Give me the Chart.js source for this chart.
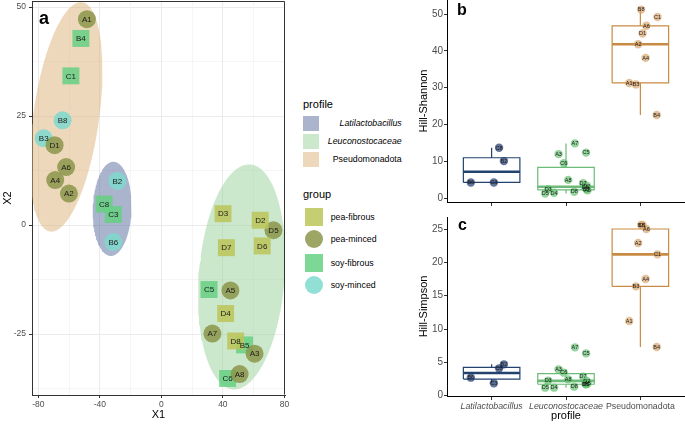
<!DOCTYPE html>
<html><head><meta charset="utf-8">
<script src="https://cdn.jsdelivr.net/npm/chart.js@4.4.1/dist/chart.umd.min.js"></script>
<style>
html,body{margin:0;padding:0;background:#fff;}
#wrap{position:relative;width:685px;height:424px;overflow:hidden;font-family:"Liberation Sans",Arial,sans-serif;}
canvas{position:absolute;}
.t{position:absolute;white-space:nowrap;line-height:1;color:#000;}
.key{position:absolute;}
</style></head><body>
<div id="wrap">
<canvas id="ca" width="300" height="424" style="left:0;top:0;width:300px;height:424px"></canvas>
<canvas id="cb" width="271" height="210" style="left:414px;top:0;width:271px;height:210px"></canvas>
<canvas id="cc" width="271" height="214" style="left:414px;top:210px;width:271px;height:214px"></canvas>
<div id="legend"></div>
<div class="t" style="left:39px;top:8.8px;font-size:18px;font-weight:bold">a</div>
<div class="t" style="left:457px;top:1.5px;font-size:16px;font-weight:bold">b</div>
<div class="t" style="left:458px;top:217px;font-size:16px;font-weight:bold">c</div>
</div>
<script>
// ---------------- data ----------------
const sampleIds = ['A1','B4','C1','B8','B3','D1','A6','A4','A2','B2','C8','C3','B6','D3','D2','D5','D6','D7','C5','A5','D4','A7','D8','B5','A3','A8','C6'];
const groupOfSample = ['pea-minced','soy-fibrous','soy-fibrous','soy-minced','soy-minced','pea-minced','pea-minced','pea-minced','pea-minced',
  'soy-minced','soy-fibrous','soy-fibrous','soy-minced',
  'pea-fibrous','pea-fibrous','pea-minced','pea-fibrous','pea-fibrous','soy-fibrous','pea-minced','pea-fibrous','pea-minced','pea-fibrous','soy-fibrous','pea-minced','pea-minced','soy-fibrous'];
const profileOfSample = ['Pseudomonadota','Pseudomonadota','Pseudomonadota','Pseudomonadota','Pseudomonadota','Pseudomonadota','Pseudomonadota','Pseudomonadota','Pseudomonadota',
  'Latilactobacillus','Latilactobacillus','Latilactobacillus','Latilactobacillus',
  'Leuconostocaceae','Leuconostocaceae','Leuconostocaceae','Leuconostocaceae','Leuconostocaceae','Leuconostocaceae','Leuconostocaceae','Leuconostocaceae','Leuconostocaceae','Leuconostocaceae','Leuconostocaceae','Leuconostocaceae','Leuconostocaceae','Leuconostocaceae'];
const x1Values = [-48.4,-52.3,-58.8,-64.2,-76.5,-69.4,-61.9,-69.0,-60.1, -28.6,-37.2,-31.2,-31.2, 40.1,64.3,72.9,65.6,42.3,31.0,44.9,41.8,33.2,48.3,54.1,60.6,50.9,43.1];
const x2Values = [47.2,42.8,34.2,24.0,19.9,18.3,13.3,10.3,7.2, 10.1,4.8,2.4,-3.9, 2.6,1.1,-1.2,-4.8,-5.2,-14.8,-15.0,-20.3,-24.9,-26.6,-27.5,-29.5,-34.2,-35.2];
const hillShannon = [31.3,22.6,49.2,51.2,30.9,44.7,46.8,38.1,41.8, 10.1,13.7,4.3,4.3, 2.5,3.4,1.3,2.9,4.1,12.4,2.2,1.5,14.9,1.8,2.5,12.0,5.0,9.5];
const hillSimpson = [11.2,7.3,21.2,25.6,16.4,25.6,25.0,17.5,22.9, 4.7,4.1,1.85,2.7, 2.25,2.2,1.2,1.75,2.85,6.35,1.8,1.2,7.25,1.35,1.7,3.95,2.45,3.45];
const jitterX = [-0.15,0.22,0.23,0.01,-0.06,0.03,0.08,0.07,-0.03, 0.165,0.10,0.03,-0.28, -0.24,0.28,-0.28,0.26,0.23,0.27,0.29,-0.16,0.12,0.11,0.27,-0.10,0.03,-0.03];
const profiles = ['Latilactobacillus','Leuconostocaceae','Pseudomonadota'];
const groups = ['pea-fibrous','pea-minced','soy-fibrous','soy-minced'];
const x1Ticks = [-80,-40,0,40,80];
const x1Minor = [-60,-20,20,60];
const x2Ticks = [-25,0,25,50];
const x2Minor = [-37.5,-12.5,12.5,37.5];
const shannonTicks = [0,10,20,30,40,50];
const simpsonTicks = [0,5,10,15,20,25];
// confidence ellipses (per profile): centre, semi-axis vectors in data units
const ellipseCenter = [[-32.0,3.7],[52.2,-11.9],[-61.9,24.8]];
const ellipseAxisA = [[0.97,10.8],[5.6,25.8],[10.4,26.3]];
const ellipseAxisB = [[12.6,-0.14],[27.8,-0.76],[21.2,-1.05]];

// ---------------- styles ----------------
const FONT = '"Liberation Sans", Arial, sans-serif';
Chart.defaults.font.family = FONT;
const ellipseFill = ['rgba(85,105,155,0.5)','rgba(151,209,155,0.5)','rgba(221,177,121,0.5)'];
const profileKey = ['#aab4cc','#cbe8cd','#eed8bc'];
const groupFill = ['rgba(188,197,89,0.85)','rgba(140,150,74,0.85)','rgba(102,208,130,0.85)','rgba(126,217,206,0.85)'];
const groupKey = ['#c6ce72','#9da665','#7dd795','#91dfd5'];
const groupShape = ['rect','circle','rect','circle'];
const groupRadius = [12,9,12,9];
const boxLine = ['#23436e','#6cbb78','#c98b43'];
const boxPoint = ['rgba(30,55,110,0.7)','rgba(90,190,105,0.65)','rgba(215,160,100,0.65)'];
const BOX_HALF = 0.38;

const labelPlugin = {
  id:'pointLabels',
  afterDatasetsDraw(chart, args, opts){
    const ctx = chart.ctx; ctx.save();
    ctx.font = opts.size + 'px ' + FONT; ctx.fillStyle = opts.color;
    ctx.textAlign = 'center'; ctx.textBaseline = 'middle';
    chart.data.datasets.forEach((ds,i)=>{
      if(!ds.pointLabels) return;
      chart.getDatasetMeta(i).data.forEach((el,k)=>ctx.fillText(ds.pointLabels[k], el.x, el.y + opts.dy));
    });
    ctx.restore();
  }
};
const framePlugin = {
  id:'frame',
  afterDraw(chart){
    const {ctx, chartArea:a} = chart; ctx.save();
    ctx.strokeStyle = '#333'; ctx.lineWidth = 1;
    ctx.beginPath();
    ctx.moveTo(Math.round(a.left)+0.5, Math.round(a.top)+0.5);
    ctx.lineTo(Math.round(a.right)-0.5, Math.round(a.top)+0.5);
    ctx.lineTo(Math.round(a.right)-0.5, Math.round(a.bottom)-0.5);
    ctx.stroke(); ctx.restore();
  }
};

// ---------------- panel a ----------------
const aDatasets = [];
groups.forEach((g,gi)=>{
  const idx = sampleIds.map((s,k)=>k).filter(k=>groupOfSample[k]===g);
  aDatasets.push({
    data: idx.map(k=>({x:x1Values[k], y:x2Values[k]})),
    pointLabels: idx.map(k=>sampleIds[k]),
    pointStyle: groupShape[gi], pointRadius: groupRadius[gi], pointHoverRadius: groupRadius[gi],
    backgroundColor: groupFill[gi], pointBorderWidth: 0, borderWidth: 0, order: 1
  });
});
profiles.forEach((p,pi)=>{
  const pts = [];
  const c = ellipseCenter[pi], A = ellipseAxisA[pi], B = ellipseAxisB[pi];
  for(let k=0;k<=120;k++){
    const t = 2*Math.PI*k/120;
    pts.push({x:c[0]+A[0]*Math.cos(t)+B[0]*Math.sin(t), y:c[1]+A[1]*Math.cos(t)+B[1]*Math.sin(t)});
  }
  aDatasets.push({type:'line', data:pts, fill:'shape', backgroundColor:ellipseFill[pi],
    borderColor:'rgba(0,0,0,0)', borderWidth:0, pointRadius:0, tension:0, order:10});
});

const isIn = (arr,v)=>arr.some(a=>Math.abs(a-v)<1e-9);
new Chart(document.getElementById('ca'), {
  type:'scatter',
  data:{datasets:aDatasets},
  options:{
    responsive:false, animation:false,
    layout:{autoPadding:false, padding:{left:0,top:1,right:15,bottom:0}},
    plugins:{legend:{display:false}, tooltip:{enabled:false}, pointLabels:{size:8, color:'#1a1a1a', dy:0.5}},
    scales:{
      x:{type:'linear', min:-84.1, max:80.4,
        afterBuildTicks:s=>{s.ticks=[...x1Ticks,...x1Minor].sort((a,b)=>a-b).map(v=>({value:v}));},
        ticks:{autoSkip:false, maxRotation:0, padding:2, color:'#4d4d4d', font:{size:8.5},
          callback:v=>isIn(x1Ticks,v)?String(v):''},
        grid:{color:'#ebebeb', lineWidth:c=>isIn(x1Ticks,c.tick.value)?1:0.5, tickLength:3,
          tickColor:c=>isIn(x1Ticks,c.tick.value)?'#333':'rgba(0,0,0,0)'},
        border:{display:true, color:'#333', width:1},
        title:{display:true, text:'X1', color:'#000', font:{size:11}, padding:{top:0,bottom:2}},
        afterFit:s=>{s.height=29; s.paddingLeft=0; s.paddingRight=0;}},
      y:{type:'linear', min:-38.99, max:51.38,
        afterBuildTicks:s=>{s.ticks=[...x2Ticks,...x2Minor].sort((a,b)=>a-b).map(v=>({value:v}));},
        ticks:{autoSkip:false, padding:3, color:'#4d4d4d', font:{size:8.5},
          callback:v=>isIn(x2Ticks,v)?String(v):''},
        grid:{color:'#ebebeb', lineWidth:c=>isIn(x2Ticks,c.tick.value)?1:0.5, tickLength:3,
          tickColor:c=>isIn(x2Ticks,c.tick.value)?'#333':'rgba(0,0,0,0)'},
        border:{display:true, color:'#333', width:1},
        title:{display:true, text:'X2', color:'#000', font:{size:11}, padding:{top:1,bottom:0}},
        afterFit:s=>{s.width=32; s.paddingTop=0; s.paddingBottom=0;}}
    }
  },
  plugins:[labelPlugin, framePlugin]
});

// ---------------- legend of panel a ----------------
(function(){
  const L = document.getElementById('legend');
  let h = '';
  h += '<div class="t" style="left:303px;top:98.7px;font-size:11px">profile</div>';
  const pc = [123.3,141.3,159.0];
  profiles.forEach((p,i)=>{
    h += `<div class="key" style="left:303px;top:${pc[i]-7.5}px;width:15.5px;height:15px;background:${profileKey[i]}"></div>`;
    h += `<div class="t" style="left:300px;width:101.7px;text-align:right;top:${pc[i]+3.3-7.45}px;font-size:8.8px;${i<2?'font-style:italic;':''}">${p}</div>`;
  });
  h += '<div class="t" style="left:303px;top:189px;font-size:11px">group</div>';
  const gc = [216.7,239.3,262.7,285.0];
  groups.forEach((g,i)=>{
    const round = groupShape[i]==='circle' ? 'border-radius:50%;' : '';
    h += `<div class="key" style="left:304.5px;top:${gc[i]-9}px;width:18px;height:18px;${round}background:${groupKey[i]}"></div>`;
    h += `<div class="t" style="left:330.7px;top:${gc[i]+3.3-7.45}px;font-size:8.8px">${g}</div>`;
  });
  L.innerHTML = h;
})();

// ---------------- panels b and c ----------------
function quantile(s,p){ const h=(s.length-1)*p, lo=Math.floor(h), hi=Math.min(lo+1,s.length-1); return s[lo]+(h-lo)*(s[hi]-s[lo]); }
function boxStats(vals){
  const s=[...vals].sort((a,b)=>a-b);
  const q1=quantile(s,0.25), med=quantile(s,0.5), q3=quantile(s,0.75), iqr=q3-q1;
  const lo=s.find(v=>v>=q1-1.5*iqr), hi=[...s].reverse().find(v=>v<=q3+1.5*iqr);
  return {q1,med,q3,lo,hi};
}
function boxChartDatasets(values){
  const ds=[];
  profiles.forEach((p,pi)=>{
    const idx = sampleIds.map((s,k)=>k).filter(k=>profileOfSample[k]===p);
    const c = pi+1, w = BOX_HALF;
    const st = boxStats(idx.map(k=>values[k]));
    ds.push({type:'line', data:[{x:c-w,y:st.q1},{x:c+w,y:st.q1},{x:c+w,y:st.q3},{x:c-w,y:st.q3},{x:c-w,y:st.q1},
      {x:c,y:null},{x:c,y:st.q3},{x:c,y:st.hi},{x:c,y:null},{x:c,y:st.q1},{x:c,y:st.lo}],
      borderColor:boxLine[pi], borderWidth:1.2, pointRadius:0, fill:false, spanGaps:false, tension:0, order:5});
    ds.push({type:'line', data:[{x:c-w,y:st.med},{x:c+w,y:st.med}], borderColor:boxLine[pi], borderWidth:2.6,
      pointRadius:0, fill:false, tension:0, order:4});
    ds.push({data: idx.map(k=>({x:c+jitterX[k], y:values[k]})), pointLabels: idx.map(k=>sampleIds[k]),
      pointStyle:'circle', pointRadius:4.2, pointHoverRadius:4.2, backgroundColor:boxPoint[pi], pointBorderWidth:0, order:1});
  });
  return ds;
}
function boxChart(id, values, yTicks, ymin, ymax, yTitle, showX, padTop, xHeight){
  return new Chart(document.getElementById(id), {
    type:'scatter',
    data:{datasets:boxChartDatasets(values)},
    options:{
      responsive:false, animation:false,
      layout:{autoPadding:false, padding:{left:0,top:padTop,right:0,bottom:0}},
      plugins:{legend:{display:false}, tooltip:{enabled:false}, pointLabels:{size:5.5, color:'#1a1a1a', dy:0.3}},
      scales:{
        x:{type:'linear', min:0.4, max:3.6,
          afterBuildTicks:s=>{s.ticks=[1,2,3].map(v=>({value:v}));},
          ticks:{display:showX, autoSkip:false, maxRotation:0, padding:1, color:'#4d4d4d',
            font:c=>({size:8.8, style:(c.index<2?'italic':'normal')}),
            callback:v=>profiles[Math.round(v)-1]},
          grid:{display:true, drawOnChartArea:false, tickLength:4, color:'#333'},
          border:{display:true, color:'#000', width:1},
          title:{display:showX, text:'profile', color:'#000', font:{size:11}, padding:{top:0,bottom:1}},
          afterFit:s=>{s.height=xHeight; s.paddingLeft=0; s.paddingRight=0;}},
        y:{type:'linear', min:ymin, max:ymax,
          afterBuildTicks:s=>{s.ticks=yTicks.map(v=>({value:v}));},
          ticks:{autoSkip:false, padding:1, color:'#4d4d4d', font:{size:10}},
          grid:{display:true, drawOnChartArea:false, tickLength:3, color:'#333'},
          border:{display:true, color:'#000', width:1},
          title:{display:true, text:yTitle, color:'#000', font:{size:11}, padding:{top:3,bottom:0}},
          afterFit:s=>{s.width=33; s.paddingTop=0; s.paddingBottom=0;}}
      }
    },
    plugins:[labelPlugin]
  });
}
boxChart('cb', hillShannon, shannonTicks, -1.0, 53.8, 'Hill-Shannon', false, 0, 8);
boxChart('cc', hillSimpson, simpsonTicks, -0.05, 26.8, 'Hill-Simpson', true, 7, 28);
</script>
</body></html>
